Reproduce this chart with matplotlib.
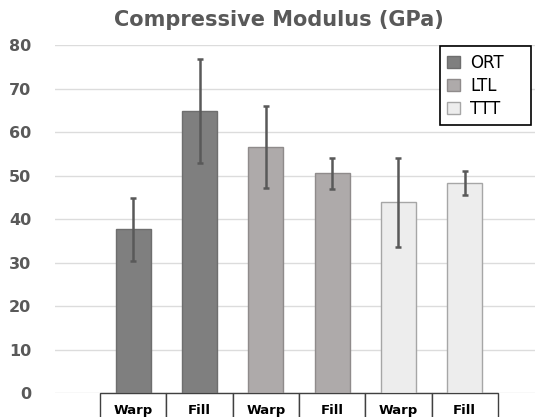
import matplotlib.pyplot as plt
import matplotlib.transforms as mtransforms
from matplotlib.patches import Rectangle, Patch
import numpy as np

# data
groups = ['ORT', 'ORT', 'LTL', 'LTL', 'TTT', 'TTT']
directions = ['Warp', 'Fill', 'Warp', 'Fill', 'Warp', 'Fill']
modulus = [37.7, 64.8, 56.5, 50.5, 43.9, 48.4]
errors = [7.2, 12.0, 9.4, 3.5, 10.2, 2.75]
colours = {'ORT': '#7f7f7f', 'LTL': '#aeaaaa', 'TTT': '#ededed'}
edges = {'ORT': '#6e6e6e', 'LTL': '#8f8b8b', 'TTT': '#a6a6a6'}

fig = plt.figure(figsize=(5.35, 4.17), dpi=100)
ax = fig.add_axes([55 / 535, (417 - 393.3) / 417, 480 / 535, (393.3 - 45) / 417])

x = np.arange(len(modulus))
ax.bar(x, modulus, width=0.53, color=[colours[g] for g in groups],
       edgecolor=[edges[g] for g in groups], linewidth=1, zorder=2)
ax.errorbar(x, modulus, yerr=errors, fmt='none', ecolor='#595959',
            elinewidth=1.8, capsize=2.3, capthick=1.8, zorder=3)

ax.set_xlim(-1.18, 6.06)
ax.set_ylim(0, 80)
ax.set_yticks(range(0, 81, 10))
ax.set_xticks([])
ax.grid(axis='y', color='#dcdcdc', linewidth=1.0, zorder=0)
ax.set_axisbelow(True)
for s in ax.spines.values():
    s.set_visible(False)
ax.tick_params(axis='y', length=0, pad=17, labelsize=11.5, labelcolor='#595959')
for lab in ax.get_yticklabels():
    lab.set_fontweight('bold')

# category boxes under the bars
trans = mtransforms.blended_transform_factory(ax.transData, ax.transAxes)
for i, d in enumerate(directions):
    ax.add_patch(Rectangle((i - 0.5, -0.2), 1, 0.2, transform=trans, clip_on=False,
                           facecolor='white', edgecolor='#404040', linewidth=1))
    ax.text(i, -0.048, d, transform=trans, ha='center', va='center',
            fontsize=9.5, fontweight='bold', color='black')

fig.text(0.522, 0.952, 'Compressive Modulus (GPa)', ha='center', va='center',
         fontsize=15, fontweight='bold', color='#595959')

handles = [Patch(facecolor=colours[g], edgecolor=edges[g], label=g) for g in ['ORT', 'LTL', 'TTT']]
leg = ax.legend(handles=handles, loc='upper left', bbox_to_anchor=(0.802, 0, 0.19, 0.997),
                mode='expand', fontsize=12, frameon=True, fancybox=False, edgecolor='black',
                handlelength=0.75, handleheight=0.75, handletextpad=0.6,
                labelspacing=0.3, borderpad=0.45, borderaxespad=0)
leg.get_frame().set_linewidth(1.2)
leg.get_frame().set_alpha(1)

fig.savefig('out.png', dpi=100)
